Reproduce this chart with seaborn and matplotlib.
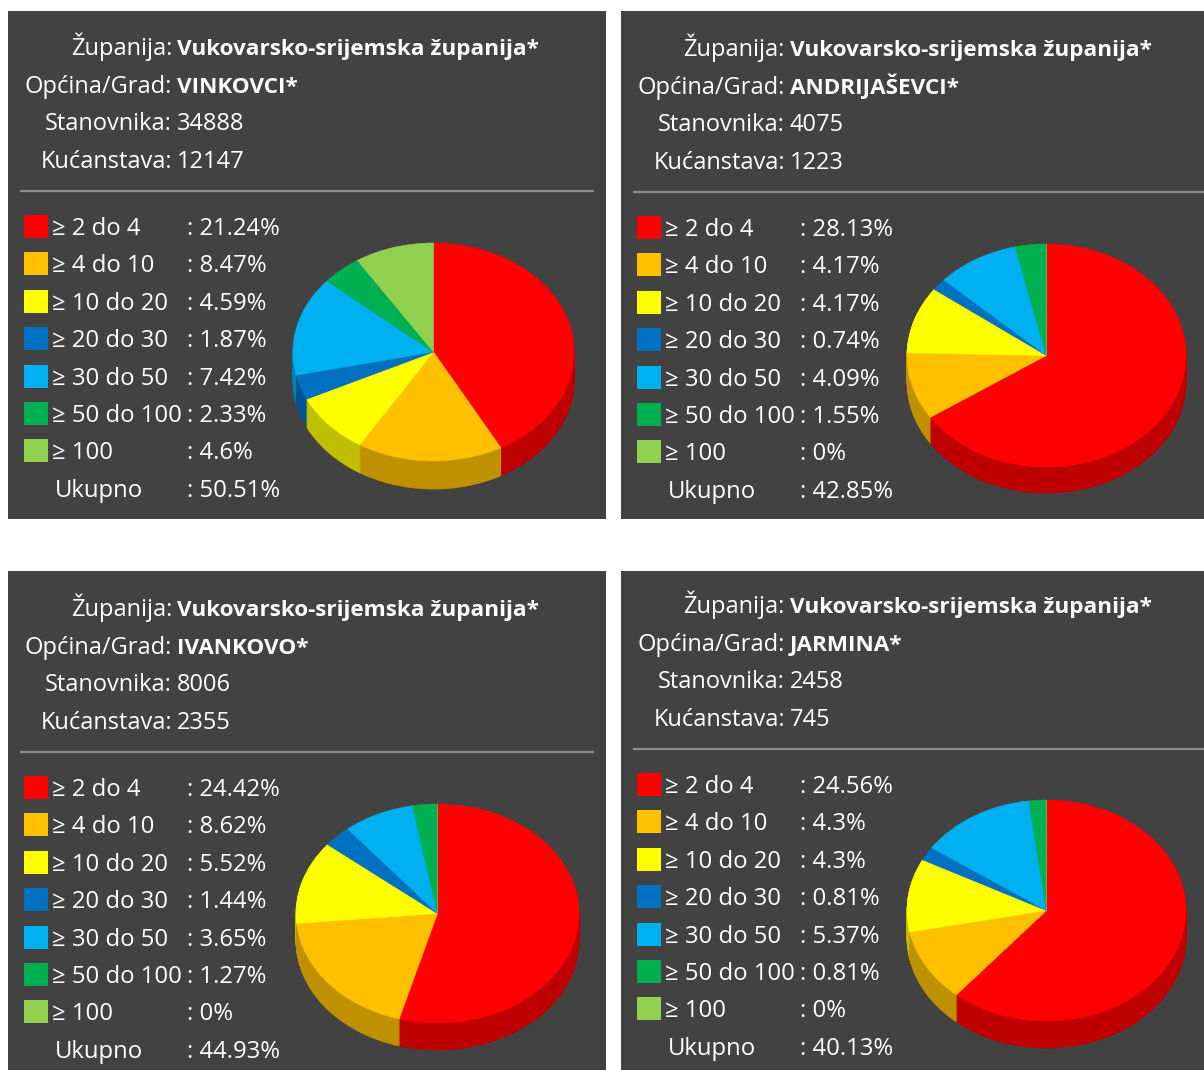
import matplotlib
matplotlib.use("Agg")
import matplotlib.pyplot as plt
import matplotlib.colors as mcolors
from matplotlib.patches import Rectangle
import seaborn as sns

# ---------------- data ----------------
zupanija = "Vukovarsko-srijemska županija*"
gradovi = ["VINKOVCI*", "ANDRIJAŠEVCI*", "IVANKOVO*", "JARMINA*"]
stanovnika = [34888, 4075, 8006, 2458]
kucanstava = [12147, 1223, 2355, 745]
kategorije = ["≥ 2 do 4", "≥ 4 do 10", "≥ 10 do 20", "≥ 20 do 30",
              "≥ 30 do 50", "≥ 50 do 100", "≥ 100"]
vinkovci = [21.24, 8.47, 4.59, 1.87, 7.42, 2.33, 4.6]
andrijasevci = [28.13, 4.17, 4.17, 0.74, 4.09, 1.55, 0]
ivankovo = [24.42, 8.62, 5.52, 1.44, 3.65, 1.27, 0]
jarmina = [24.56, 4.3, 4.3, 0.81, 5.37, 0.81, 0]
ukupno = ["50.51%", "42.85%", "44.93%", "40.13%"]
postoci = [vinkovci, andrijasevci, ivankovo, jarmina]
boje = ["#FF0000", "#FFC000", "#FFFF00", "#0070C0", "#00B0F0", "#00B050", "#92D050"]

# ---------------- style ----------------
sns.set_theme(style="dark")
plt.rcParams["font.family"] = ["Open Sans", "DejaVu Sans"]

W, H = 1204, 1070
fig = plt.figure(figsize=(W / 100, H / 100), dpi=100)
fig.patch.set_facecolor("white")
bg = fig.add_axes([0, 0, 1, 1])
bg.set_xlim(0, W)
bg.set_ylim(H, 0)
bg.axis("off")

PANEL_BG = "#424242"
SEP = "#8e8e8e"
FS_HEAD = 17.0
FS_BOLD = 16.2
FS_LEG = 17.2
TXT = "white"

# panel: (left, top, right, bottom, text dy)
panels = [(8, 11, 606, 519, 0), (621, 11, 1204, 519, 1),
          (8, 571, 606, 1070, 1), (621, 571, 1204, 1070, -2)]
pie_geom = [(433.5, 352, 140.5, 109, 28), (1046.5, 355.5, 139.5, 111.5, 26),
            (437.5, 913.5, 141.5, 109.5, 27), (1046.5, 910.5, 139.5, 110.5, 27)]

def darker(c, f=0.75):
    r, g, b = mcolors.to_rgb(c)
    return (r * f, g * f, b * f)

for i, (l, t, r, b, dy) in enumerate(panels):
    bg.add_patch(Rectangle((l, t), r - l, b - t, facecolor=PANEL_BG, edgecolor="none"))
    x0 = l
    y0 = t + dy
    colx = x0 + 164
    valx = x0 + 169
    header = [("Županija:", zupanija, "bold"),
              ("Općina/Grad:", gradovi[i], "bold"),
              ("Stanovnika:", str(stanovnika[i]), "normal"),
              ("Kućanstava:", str(kucanstava[i]), "normal")]
    for k, (lab, val, w) in enumerate(header):
        yb = y0 + 44 + 37.6 * k
        bg.text(colx, yb, lab, ha="right", va="baseline", color=TXT, fontsize=FS_HEAD)
        bg.text(valx, yb, val, ha="left", va="baseline", color=TXT,
                fontsize=FS_BOLD if w == "bold" else FS_HEAD, fontweight=w)
    right_end = r - 12 if r < W else W
    bg.plot([x0 + 12, right_end], [y0 + 179.5, y0 + 179.5], color=SEP,
            lw=1.6, solid_capstyle="butt")
    for k, cat in enumerate(kategorije):
        yb = y0 + 224 + 37.4 * k
        bg.add_patch(Rectangle((x0 + 16, yb - 20), 24, 23, facecolor=boje[k],
                               edgecolor="none"))
        bg.text(x0 + 44, yb, cat, ha="left", va="baseline", color=TXT, fontsize=FS_LEG)
        bg.text(x0 + 179, yb, ": " + f"{postoci[i][k]:g}%", ha="left", va="baseline",
                color=TXT, fontsize=FS_LEG)
    yb = y0 + 224 + 37.4 * 7
    bg.text(x0 + 47, yb, "Ukupno", ha="left", va="baseline", color=TXT, fontsize=FS_LEG)
    bg.text(x0 + 179, yb, ": " + ukupno[i], ha="left", va="baseline", color=TXT,
            fontsize=FS_LEG)

    # ---- 3D-like pie ----
    cx, cy, rx, ry, depth = pie_geom[i]
    pad = 4
    left_px, right_px = cx - rx - pad, cx + rx + pad
    top_px, bot_px = cy - ry - pad, cy + ry + depth + pad
    pax = fig.add_axes([left_px / W, 1 - bot_px / H, (right_px - left_px) / W,
                        (bot_px - top_px) / H])
    vals = postoci[i]
    dark = [darker(c) for c in boje]
    d_units = depth / ry
    nsteps = int(depth)
    for s in range(nsteps, 0, -1):
        off = d_units * s / nsteps
        wedges, _ = pax.pie(vals, colors=dark, startangle=90, counterclock=False,
                            center=(0, -off), radius=1, normalize=True)
        for wdg in wedges:
            wdg.set_edgecolor(wdg.get_facecolor())
            wdg.set_linewidth(0.6)
    wedges, _ = pax.pie(vals, colors=boje, startangle=90, counterclock=False,
                        center=(0, 0), radius=1, normalize=True)
    for wdg in wedges:
        wdg.set_edgecolor(wdg.get_facecolor())
        wdg.set_linewidth(0.4)
    pax.set_aspect("auto")
    pax.set_xlim(-1 - pad / rx, 1 + pad / rx)
    pax.set_ylim(-1 - d_units - pad / ry, 1 + pad / ry)
    pax.axis("off")

fig.savefig("out.png", dpi=100, facecolor="white")
